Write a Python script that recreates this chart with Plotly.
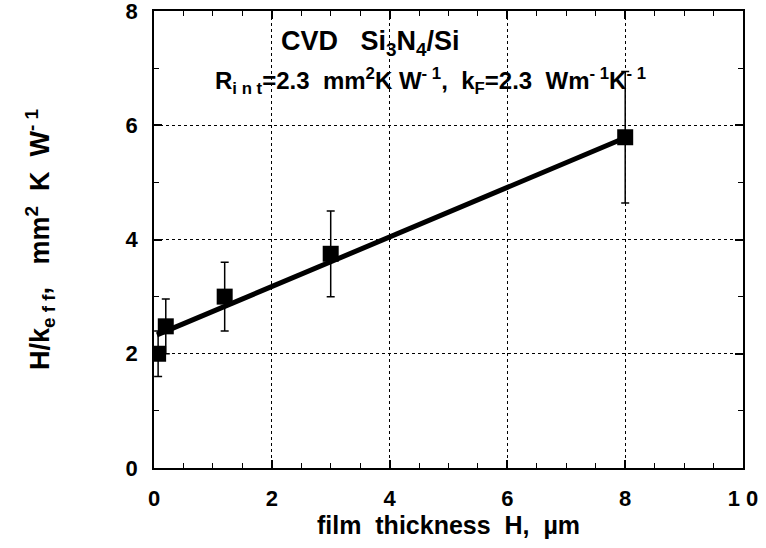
import plotly.graph_objects as go

# data
film_H = [0.07, 0.2, 1.2, 3.0, 8.0]
h_over_k = [2.0, 2.48, 3.0, 3.75, 5.79]
err = [0.4, 0.48, 0.6, 0.75, 1.15]
fit_x = [0.05, 8.0]
fit_y = [2.33, 5.78]
x_tickvals = [0, 2, 4, 6, 8, 10]
x_ticktext = ["0", "2", "4", "6", "8", "1 0"]
y_tickvals = [0, 2, 4, 6, 8]

FONT = "Liberation Sans, Arial, sans-serif"

fig = go.Figure()
fig.add_trace(go.Scatter(x=fit_x, y=fit_y, mode="lines",
                         line=dict(color="black", width=5), showlegend=False))
fig.add_trace(go.Scatter(x=film_H, y=h_over_k, mode="markers",
                         marker=dict(symbol="square", size=16, color="black"),
                         error_y=dict(type="data", array=err, color="black",
                                      thickness=1.5, width=4),
                         showlegend=False))

axis_common = dict(showline=True, linecolor="black", linewidth=1.5, mirror="allticks",
                   ticks="inside", ticklen=8, tickwidth=1.5, tickcolor="black",
                   showgrid=True, gridcolor="black", gridwidth=1, griddash="dot",
                   zeroline=False, automargin=False, ticklabeloverflow="allow",
                   tickfont=dict(family=FONT, size=22, color="black", weight="bold"))

fig.update_xaxes(range=[0, 10], tickvals=x_tickvals, ticktext=x_ticktext,
                 ticklabelstandoff=10,
                 minor=dict(dtick=0.5, ticks="inside", ticklen=5, tickwidth=1.2,
                            tickcolor="black", showgrid=False),
                 title=dict(text="film  thickness  H,  µm", standoff=6,
                            font=dict(family=FONT, size=25, color="black", weight="bold")),
                 **axis_common)
fig.update_yaxes(range=[0, 8], tickvals=y_tickvals,
                 ticklabelstandoff=10,
                 minor=dict(dtick=1, ticks="inside", ticklen=5, tickwidth=1.2,
                            tickcolor="black", showgrid=False),
                 title=dict(text="H/k<sub>e f f</sub>,   mm<sup>2</sup>  K  W<sup>- 1</sup>", standoff=68,
                            font=dict(family=FONT, size=27, color="black", weight="bold")),
                 **axis_common)

fig.add_annotation(x=0.367, y=0.972, xref="paper", yref="paper", showarrow=False,
                   text="CVD   Si<sub>3</sub>N<sub>4</sub>/Si", xanchor="center",
                   font=dict(family=FONT, size=27, color="black", weight="bold"))
fig.add_annotation(x=0.1, y=0.888, xref="paper", yref="paper", showarrow=False,
                   xanchor="left",
                   text="R<sub>i n t</sub>=2.3  mm<sup>2</sup>K W<sup>- 1</sup>,  k<sub>F</sub>=2.3  Wm<sup>- 1</sup>K<sup>- 1</sup>",
                   font=dict(family=FONT, size=24, color="black", weight="bold"))

fig.update_layout(width=766, height=548, paper_bgcolor="white", plot_bgcolor="white",
                  margin=dict(l=154, r=23, t=11, b=80))

fig.write_html("out.html")
